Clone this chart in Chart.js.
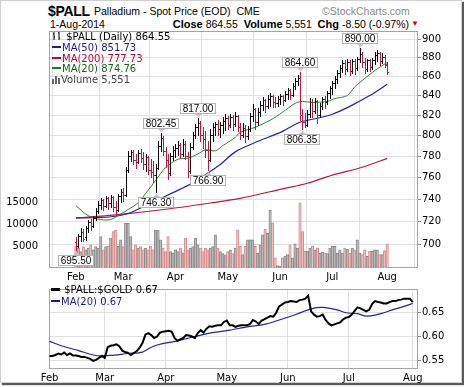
<!DOCTYPE html>
<html>
<head>
<meta charset="utf-8">
<script src="https://cdn.jsdelivr.net/npm/chart.js@4.4.1/dist/chart.umd.min.js"></script>
<style>
  body { margin: 0; width: 464px; height: 387px; overflow: hidden; position: relative; background: #fff;
         font-family: "Liberation Sans", Arial, sans-serif; }
  #frame { position: absolute; left: 0; top: 0; width: 460px; height: 381px; border: 1px solid #cfcfcf;
           box-shadow: 2px 2px 1px #5a5a5a; background: #fff; }
  canvas { position: absolute; left: 0; }
  .t { position: absolute; white-space: nowrap; line-height: 12px; }
  .lg { position: absolute; white-space: nowrap; line-height: 12px; font: 10px "DejaVu Sans", sans-serif; }
  .dash { display: inline-block; width: 9px; height: 2px; vertical-align: middle; margin-right: 1px; position: relative; top: -1px; }
</style>
</head>
<body>
<div id="frame"></div>

<div class="t" style="left:48px;top:3px;font:bold 14px 'Liberation Sans';line-height:16px;letter-spacing:-0.3px;">$PALL</div>
<div class="t" style="left:94px;top:5px;font-size:10.5px;">Palladium - Spot Price (EOD)&nbsp;&nbsp;CME</div>
<div class="t" style="left:322px;top:5px;font-size:10.5px;color:#8a8a8a;">©StockCharts.com</div>
<div class="t" style="left:50px;top:18px;font-size:10.5px;">1-Aug-2014</div>
<div class="t" style="right:55px;top:18px;font-size:10.5px;"><b style="font-size:11px">Close</b> 864.55&nbsp; <b style="font-size:11px">Volume</b> 5,551&nbsp; <b style="font-size:11px">Chg</b> -8.50 (-0.97%)</div>
<div class="t" style="left:411px;top:18px;font-size:8px;color:#b0102a;">▼</div>

<canvas id="priceChart" width="464" height="284" style="top:0"></canvas>
<canvas id="ratioChart" width="464" height="105" style="top:282px"></canvas>

<div class="lg" style="left:52px;top:31px;">
  <svg width="11" height="10" style="vertical-align:middle;position:relative;top:-1px"><path d="M2 1v8M1 3h1M2 6h1M7 1v8M6 2h1M7 7h1" stroke="#000" fill="none"/></svg> $PALL (Daily) 864.55</div>
<div class="lg" style="left:52px;top:42px;color:#1a1a8c;"><span class="dash" style="background:#1a1a9a"></span>MA(50) 851.73</div>
<div class="lg" style="left:52px;top:53px;color:#cc0033;"><span class="dash" style="background:#cc0033"></span>MA(200) 777.73</div>
<div class="lg" style="left:52px;top:63px;color:#146614;"><span class="dash" style="background:#1f7a1f"></span>MA(20) 874.76</div>
<div class="lg" style="left:52px;top:74px;color:#444;">
  <svg width="9" height="9" style="vertical-align:middle;position:relative;top:-1px"><path d="M0 9V4h2v5M3 9V1h2v8M6 9V3h2v6" fill="#666"/></svg>Volume 5,551</div>
<div class="lg" style="left:51px;top:284px;color:#000;"><span class="dash" style="background:#000;height:3px"></span> $PALL:$GOLD 0.67</div>
<div class="lg" style="left:51px;top:296px;color:#1a1a8c;"><span class="dash" style="background:#1a1a9a"></span>MA(20) 0.67</div>

<script>
const monthLabels = ['Feb', 'Mar', 'Apr', 'May', 'Jun', 'Jul', 'Aug'];
const monthStarts = [0, 19, 40, 61, 82, 103, 125];

const opens = [
  702, 699, 707, 711, 706, 714, 719, 716, 723, 729,
  735, 739, 734, 741, 736, 742, 733, 730, 743, 746,
  744, 767, 780, 784, 776, 774, 783, 778, 772, 779,
  767, 765, 762, 769, 790, 797, 785, 776, 764, 780,
  786, 788, 791, 782, 792, 780, 766, 789, 800, 808,
  812, 800, 796, 786, 776, 800, 808, 811, 806, 810,
  814, 817, 810, 818, 811, 819, 808, 800, 807, 799,
  806, 819, 826, 813, 823, 830, 835, 829, 836, 840,
  833, 832, 837, 840, 835, 842, 846, 841, 850, 855,
  858, 820, 813, 810, 821, 833, 824, 834, 820, 829,
  836, 833, 843, 848, 853, 857, 864, 869, 874, 868,
  875, 866, 876, 869, 878, 884, 875, 868, 877, 870,
  877, 883, 885, 876, 881, 872
];
const highs = [
  706, 709, 714, 713, 716, 721, 722, 725, 732, 738,
  741, 740, 743, 742, 744, 743, 738, 745, 749, 750,
  770, 785, 786, 786, 782, 786, 787, 784, 782, 780,
  777, 775, 772, 795, 802.45, 799, 789, 782, 783, 790,
  792, 795, 793, 796, 795, 784, 793, 803, 811, 817,
  814, 808, 804, 795, 806, 812, 813, 815, 813, 818,
  821, 819, 821, 820, 823, 820, 812, 812, 810, 809,
  822, 831, 827, 827, 834, 839, 837, 841, 843, 841,
  839, 840, 842, 841, 845, 848, 847, 853, 858, 861,
  864.6, 826, 822, 825, 838, 836, 838, 835, 832, 839,
  840, 845, 850, 855, 860, 867, 872, 877, 877, 878,
  877, 878, 878, 881, 890, 886, 880, 879, 878, 880,
  886, 888, 886, 885, 883, 875
];
const lows = [
  695.5, 698, 703, 703, 704, 711, 712, 715, 721, 727,
  731, 730, 733, 731, 733, 729, 726, 729, 737, 738,
  743, 765, 775, 772, 769, 773, 774, 768, 766, 763,
  760, 756, 746.3, 768, 785, 781, 770, 758, 762, 776,
  779, 781, 778, 780, 777, 760, 764, 787, 797, 800,
  795, 788, 779, 766.9, 775, 795, 800, 800, 798, 802,
  805, 806, 808, 805, 809, 804, 796, 798, 794, 796,
  804, 814, 806, 810, 819, 825, 823, 827, 829, 828,
  828, 829, 831, 830, 834, 837, 837, 840, 847, 851,
  815, 806.35, 808, 809, 818, 818, 822, 812, 818, 826,
  827, 831, 838, 842, 848, 853, 859, 865, 863, 866,
  861, 864, 862, 867, 875, 870, 864, 866, 866, 868,
  873, 876, 872, 874, 870, 862
];
const closes = [
  699, 707, 711, 705, 714, 719, 716, 723, 729, 735,
  739, 734, 741, 736, 742, 733, 730, 743, 746, 744,
  767, 780, 784, 776, 774, 783, 778, 772, 779, 767,
  765, 762, 769, 790, 797, 785, 776, 764, 780, 786,
  788, 791, 782, 792, 780, 766, 789, 800, 808, 812,
  800, 796, 786, 776, 800, 808, 811, 806, 810, 814,
  817, 810, 818, 811, 819, 808, 800, 807, 799, 806,
  819, 826, 813, 823, 830, 835, 829, 836, 840, 833,
  832, 837, 840, 835, 842, 846, 841, 850, 855, 858,
  820, 813, 810, 821, 833, 824, 834, 820, 829, 836,
  833, 843, 848, 853, 857, 864, 869, 874, 868, 875,
  866, 876, 869, 878, 884, 875, 868, 877, 870, 877,
  883, 885, 876, 881, 873.05, 864.55
];
const volumes = [
  5000, 4600, 3800, 4900, 4200, 4600, 5300, 4200, 4900, 4600,
  7200, 4200, 4900, 5000, 6900, 8400, 8700, 5000, 6500, 4900,
  10300, 10300, 7200, 4200, 5300, 4600, 4900, 4200, 4600, 4200,
  5000, 4200, 8700, 8700, 6500, 4600, 3800, 7200, 3800, 3500,
  4200, 3800, 4600, 3500, 6900, 4200, 4600, 4900, 6900, 5300,
  4600, 3800, 4600, 4200, 4600, 4900, 7600, 4600, 3800, 3300,
  3000, 3800, 4200, 3300, 4600, 8750, 4960, 3070, 4960, 6480,
  6480, 6480, 4960, 3450, 5340, 7610, 8900, 8000, 13300, 10400,
  2310, 570, 420, 2310, 2700, 3070, 5340, 2310, 5570, 4580,
  14960, 8370, 3830, 3830, 4580, 4960, 4200, 4580, 3450, 3600,
  3450, 3300, 4580, 4960, 4960, 3450, 4200, 3450, 4580, 4350,
  3450, 4580, 4200, 6480, 3450, 3070, 4200, 2690, 3830, 3830,
  4200, 4200, 3070, 3070, 4000, 5551
];

// moving averages as [day index, value]
const ma50 = [[0, 723], [10, 723.5], [16, 724.5], [21, 727], [27, 733], [33, 739.5], [42, 749], [48, 756],
  [53, 764], [58, 772], [64, 784], [72, 793], [83, 804], [90, 813], [97, 817], [103, 821], [110, 829],
  [118, 840], [125, 851.73]];
const ma200 = [[0, 723], [19, 726.5], [37, 731], [54, 736.4], [66, 740.6], [83, 749.3], [93, 754.4],
  [103, 762], [115, 769.4], [125, 777.73]];
const ma20 = [[0, 734], [5, 725], [10, 721.6], [14, 721.6], [18, 726.5], [21, 730.5], [25, 736.6], [28, 745],
  [32, 757], [36, 769], [41, 777], [45, 778], [49, 782], [52, 786], [56, 785], [59, 790], [64, 798],
  [66, 803], [72, 808], [78, 815], [83, 823], [88, 832], [91, 834], [95, 833], [101, 834], [104, 837],
  [109, 840], [112, 849], [117, 860], [121, 868], [125, 874.76]];

const ratio = [
  0.560, 0.560, 0.562, 0.565, 0.563, 0.567, 0.562, 0.565, 0.561, 0.561,
  0.560, 0.558, 0.558, 0.556, 0.554, 0.550, 0.552, 0.556, 0.560, 0.556,
  0.578, 0.581, 0.582, 0.584, 0.580, 0.571, 0.568, 0.566, 0.562, 0.566,
  0.570, 0.577, 0.587, 0.604, 0.607, 0.603, 0.597, 0.600, 0.608, 0.610,
  0.611, 0.612, 0.610, 0.597, 0.591, 0.594, 0.597, 0.603, 0.602, 0.600,
  0.597, 0.607, 0.613, 0.608, 0.616, 0.621, 0.620, 0.622, 0.623, 0.623,
  0.630, 0.633, 0.623, 0.623, 0.620, 0.622, 0.623, 0.623, 0.623, 0.626,
  0.634, 0.631, 0.626, 0.633, 0.636, 0.639, 0.642, 0.641, 0.649, 0.662,
  0.666, 0.670, 0.671, 0.673, 0.672, 0.671, 0.675, 0.676, 0.678, 0.684,
  0.652, 0.645, 0.641, 0.642, 0.645, 0.634, 0.627, 0.623, 0.625, 0.627,
  0.629, 0.635, 0.639, 0.640, 0.645, 0.653, 0.660, 0.658, 0.655, 0.652,
  0.655, 0.667, 0.673, 0.671, 0.670, 0.668, 0.668, 0.671, 0.673, 0.673,
  0.675, 0.676, 0.678, 0.678, 0.678, 0.671
];
const ratioMa20 = [[0, 0.590], [4, 0.581], [10, 0.571], [15, 0.562], [18, 0.560], [21, 0.561], [27, 0.565],
  [32, 0.568], [35, 0.578], [38, 0.584], [44, 0.591], [50, 0.600], [56, 0.608], [62, 0.613], [68, 0.620],
  [74, 0.625], [79, 0.634], [85, 0.646], [90, 0.657], [94, 0.660], [99, 0.655], [102, 0.649], [106, 0.647],
  [109, 0.642], [112, 0.644], [115, 0.649], [118, 0.655], [122, 0.662], [125, 0.668]];

const priceTicks = [700, 720, 740, 760, 780, 800, 820, 840, 860, 880, 900];
const volumeTicks = [5000, 10000, 15000];
const ratioTicks = [0.55, 0.60, 0.65];

// labelled highs and lows
const noteIdx = [0, 32, 34, 49, 53, 90, 91, 114];
const noteValues = [695.50, 746.30, 802.45, 817.00, 766.90, 864.60, 806.35, 890.00];
const noteSides = ['low', 'low', 'high', 'high', 'low', 'high', 'low', 'high'];

const RED = '#d0103a';
const down = closes.map((c, i) => i === 0 || c < closes[i - 1]);
const axisFont = { family: 'DejaVu Sans', size: 10 };

function xAxis(height) {
  return {
    type: 'linear', min: -0.2, max: 126.8, bounds: 'data',
    afterBuildTicks: a => { a.ticks = monthStarts.map(v => ({ value: v })); },
    afterFit: s => { s.height = height; },
    ticks: { autoSkip: false, maxRotation: 0, padding: 3, color: '#000', font: axisFont,
             callback: (v, i) => monthLabels[i] },
    grid: { color: '#e0e0e0', drawTicks: false },
    border: { display: false }
  };
}

const framePlugin = {
  id: 'frame',
  beforeDatasetsDraw(chart) {
    const a = chart.chartArea, ctx = chart.ctx;
    ctx.save();
    ctx.strokeStyle = '#a4a4a4';
    ctx.lineWidth = 1;
    ctx.strokeRect(Math.round(a.left) + 0.5, Math.round(a.top) + 0.5,
      Math.round(a.right - a.left) - 1, Math.round(a.bottom - a.top) - 1);
    ctx.restore();
  }
};

const ohlcPlugin = {
  id: 'ohlc',
  afterDatasetsDraw(chart) {
    const { ctx, chartArea: a, scales: { x, y } } = chart;
    ctx.save();
    ctx.beginPath();
    ctx.rect(a.left, a.top, a.right - a.left, a.bottom - a.top);
    ctx.clip();
    closes.forEach((c, i) => {
      const px = Math.round(x.getPixelForValue(i));
      const yh = Math.round(y.getPixelForValue(highs[i]));
      const yl = Math.round(y.getPixelForValue(lows[i]));
      ctx.fillStyle = down[i] ? RED : '#000';
      ctx.fillRect(px, yh, 1, yl - yh + 1);
      ctx.fillRect(px - 1, Math.round(y.getPixelForValue(opens[i])), 1, 1);
      ctx.fillRect(px + 1, Math.round(y.getPixelForValue(c)), 1, 1);
    });
    ctx.restore();
  }
};

const notesPlugin = {
  id: 'notes',
  afterDraw(chart) {
    const { ctx, scales: { x, y } } = chart;
    ctx.save();
    ctx.font = '10px "Liberation Sans"';
    ctx.textAlign = 'center';
    ctx.textBaseline = 'middle';
    noteIdx.forEach((i, k) => {
      const label = noteValues[k].toFixed(2);
      const cx = Math.round(x.getPixelForValue(i));
      const py = Math.round(y.getPixelForValue(noteValues[k]));
      const w = Math.round(ctx.measureText(label).width) + 5, h = 11;
      const high = noteSides[k] === 'high';
      const top = high ? py - 4 - h : py + 5;
      const left = cx - Math.floor(w / 2);
      ctx.fillStyle = '#c4c4c4';
      ctx.beginPath();
      if (high) { ctx.moveTo(cx - 3, top + h); ctx.lineTo(cx + 4, top + h); ctx.lineTo(cx + 0.5, py - 1); }
      else { ctx.moveTo(cx - 3, top); ctx.lineTo(cx + 4, top); ctx.lineTo(cx + 0.5, py + 2); }
      ctx.fill();
      ctx.fillStyle = '#fff';
      ctx.fillRect(left, top, w, h);
      ctx.strokeStyle = '#b4b4b4';
      ctx.strokeRect(left + 0.5, top + 0.5, w - 1, h - 1);
      ctx.fillStyle = '#000';
      ctx.fillText(label, left + w / 2, top + h / 2 + 0.5);
    });
    ctx.restore();
  }
};

const pts = arr => arr.map(([i, v]) => ({ x: i, y: v }));

new Chart(document.getElementById('priceChart'), {
  type: 'bar',
  data: {
    datasets: [
      { type: 'line', label: 'MA(20)', data: pts(ma20), yAxisID: 'y', borderColor: '#2a862a', borderWidth: 1,
        pointRadius: 0, tension: 0.3, order: 3 },
      { type: 'line', label: 'MA(50)', data: pts(ma50), yAxisID: 'y', borderColor: '#2222a6', borderWidth: 1.2,
        pointRadius: 0, tension: 0.3, order: 4 },
      { type: 'line', label: 'MA(200)', data: pts(ma200), yAxisID: 'y', borderColor: '#d0103a', borderWidth: 1.2,
        pointRadius: 0, tension: 0.3, order: 5 },
      { type: 'bar', label: 'Volume', data: volumes.map((v, i) => ({ x: i, y: v })), yAxisID: 'v',
        backgroundColor: down.map(d => d ? '#f2c0c0' : '#bdbdbd'),
        borderColor: down.map(d => d ? '#d98a8a' : '#8a8a8a'),
        borderWidth: 1, barPercentage: 1, categoryPercentage: 1, order: 10 }
    ]
  },
  options: {
    responsive: false, animation: false, devicePixelRatio: 1,
    layout: { padding: { top: 31, left: 0, right: 0, bottom: 0 } },
    plugins: { legend: { display: false }, tooltip: { enabled: false } },
    scales: {
      x: xAxis(16),
      y: {
        type: 'logarithmic', position: 'right', min: 680, max: 909.2, bounds: 'data',
        afterBuildTicks: a => { a.ticks = priceTicks.map(v => ({ value: v })); },
        afterFit: s => { s.width = 46; },
        ticks: { padding: 1, color: '#000', font: axisFont, callback: v => String(v) },
        grid: { color: '#e0e0e0', tickLength: 3, tickColor: '#888' },
        border: { display: false }
      },
      v: {
        type: 'linear', position: 'left', min: 0, max: 54500, bounds: 'data',
        afterBuildTicks: a => { a.ticks = volumeTicks.map(v => ({ value: v })); },
        afterFit: s => { s.width = 49; },
        ticks: { padding: 3, color: '#000', font: axisFont, callback: v => String(v) },
        grid: { display: false },
        border: { display: false }
      }
    }
  },
  plugins: [framePlugin, ohlcPlugin, notesPlugin]
});

new Chart(document.getElementById('ratioChart'), {
  type: 'line',
  data: {
    datasets: [
      { label: '$PALL:$GOLD', data: ratio.map((v, i) => ({ x: i, y: v })), borderColor: '#000', borderWidth: 2,
        pointRadius: 0, tension: 0, order: 1 },
      { label: 'MA(20)', data: pts(ratioMa20), borderColor: '#2222a6', borderWidth: 1.2,
        pointRadius: 0, tension: 0.3, order: 2 }
    ]
  },
  options: {
    responsive: false, animation: false, devicePixelRatio: 1,
    layout: { padding: { top: 1, left: 49, right: 0, bottom: 0 } },
    plugins: { legend: { display: false }, tooltip: { enabled: false } },
    scales: {
      x: xAxis(18),
      y: {
        type: 'linear', position: 'right', min: 0.5331, max: 0.6979, bounds: 'data',
        afterBuildTicks: a => { a.ticks = ratioTicks.map(v => ({ value: v })); },
        afterFit: s => { s.width = 46; },
        ticks: { padding: 1, color: '#000', font: axisFont, callback: v => v.toFixed(2) },
        grid: { color: '#e0e0e0', tickLength: 3, tickColor: '#888' },
        border: { display: false }
      }
    }
  },
  plugins: [framePlugin]
});
</script>
</body>
</html>
